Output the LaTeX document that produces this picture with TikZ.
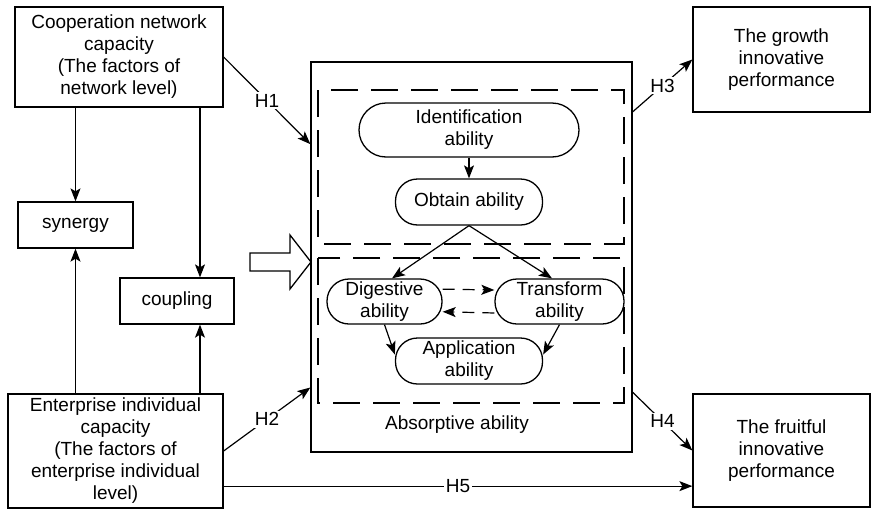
\documentclass[tikz,border=0pt]{standalone}
\usepackage{fontspec}
\setmainfont{Liberation Sans}
\usetikzlibrary{arrows.meta}

\begin{document}
\begin{tikzpicture}[x=1pt,y=-1pt,>={Stealth[length=13pt,width=10pt,inset=3pt]},
  line width=1.2pt,
  box/.style={draw, line width=1.3pt, align=center, inner sep=0pt,
    font=\fontsize{19}{22}\selectfont},
  pill/.style={box, rounded corners=#1}, pill/.default=22pt,
  dashbox/.style={draw, line width=1.3pt, dash pattern=on 27pt off 13pt},
  back/.style={dash pattern=on 12pt off 8pt},
  hlab/.style={fill=white, inner sep=2pt, font=\fontsize{19}{22}\selectfont}]
  \useasboundingbox (0,0) rectangle (871,509);
  % ---- left side: capacities ----
  \node[box, minimum width=208pt, minimum height=100pt] (coop) at (119,57)
    {Cooperation network\\capacity\\(The factors of\\network level)};
  \node[box, minimum width=115pt, minimum height=46pt] (syn) at (75.5,225) {synergy};
  \node[box, minimum width=114pt, minimum height=46pt] (coup) at (177,301) {coupling};
  \node[box, minimum width=215pt, minimum height=114pt] (ent) at (115.5,451)
    {Enterprise individual\\capacity\\(The factors of\\enterprise individual\\level)};
  \coordinate (cx) at (200,0);
  \draw[->] (coop.south -| syn.north) -- (syn.north);
  \draw[->] (ent.north -| syn.south) -- (syn.south);
  \draw[->] (coop.south -| cx) -- (coup.north -| cx);
  \draw[->] (ent.north -| cx) -- (coup.south -| cx);
  \draw[line width=1.3pt] (250,253) -- (290,253) -- (290,235) -- (311,262)
    -- (290,289) -- (290,271) -- (250,271) -- cycle;
  % ---- absorptive ability ----
  \node[box, minimum width=321pt, minimum height=390pt] (abs) at (471.5,257) {};
  \node[font=\fontsize{19}{22}\selectfont] (abslab) at (457,425) {Absorptive ability};
  \draw[dashbox] (318,90) rectangle (624,244);
  \draw[dashbox] (318,258) rectangle (624,403);
  \node[pill=27pt, minimum width=220pt, minimum height=54pt] (iden) at (469,130)
    {Identification\\ability};
  \node[pill, minimum width=147pt, minimum height=46pt] (obt) at (469,202) {Obtain ability};
  \node[pill, minimum width=115pt, minimum height=45pt] (dig) at (384.5,301.5) {Digestive\\ability};
  \node[pill, minimum width=129pt, minimum height=45pt] (tra) at (559.5,301.5) {Transform\\ability};
  \node[pill, minimum width=147pt, minimum height=46pt] (app) at (469,361) {Application\\ability};
  \draw[->] (iden) -- (obt);
  \draw[->] (obt.south) -- (dig.72);
  \draw[->] (obt.south) -- (tra.108);
  \draw[->] (dig.south) -- (app.175);
  \draw[->] (tra.south) -- (app.5);
  \draw[->, back] (dig.12) -- (tra.170);
  \draw[->, back] (tra.190) -- (dig.350);
  % ---- performance ----
  \node[box, minimum width=177pt, minimum height=105pt] (grow) at (781.5,59.5)
    {The growth\\innovative\\performance};
  \node[box, minimum width=177pt, minimum height=113pt] (fru) at (781.5,450.5)
    {The fruitful\\innovative\\performance};
  \foreach \a/\b/\h in {coop.east/abs.145/H1, ent.east/abs.219/H2,
      abs.42/grow.west/H3, abs.320/fru.west/H4}
    \draw[->] (\a) -- node[hlab] {\h} (\b);
  \draw[->] (ent.342) -- node[hlab] {H5} (ent.342 -| fru.west);
\end{tikzpicture}
\end{document}
